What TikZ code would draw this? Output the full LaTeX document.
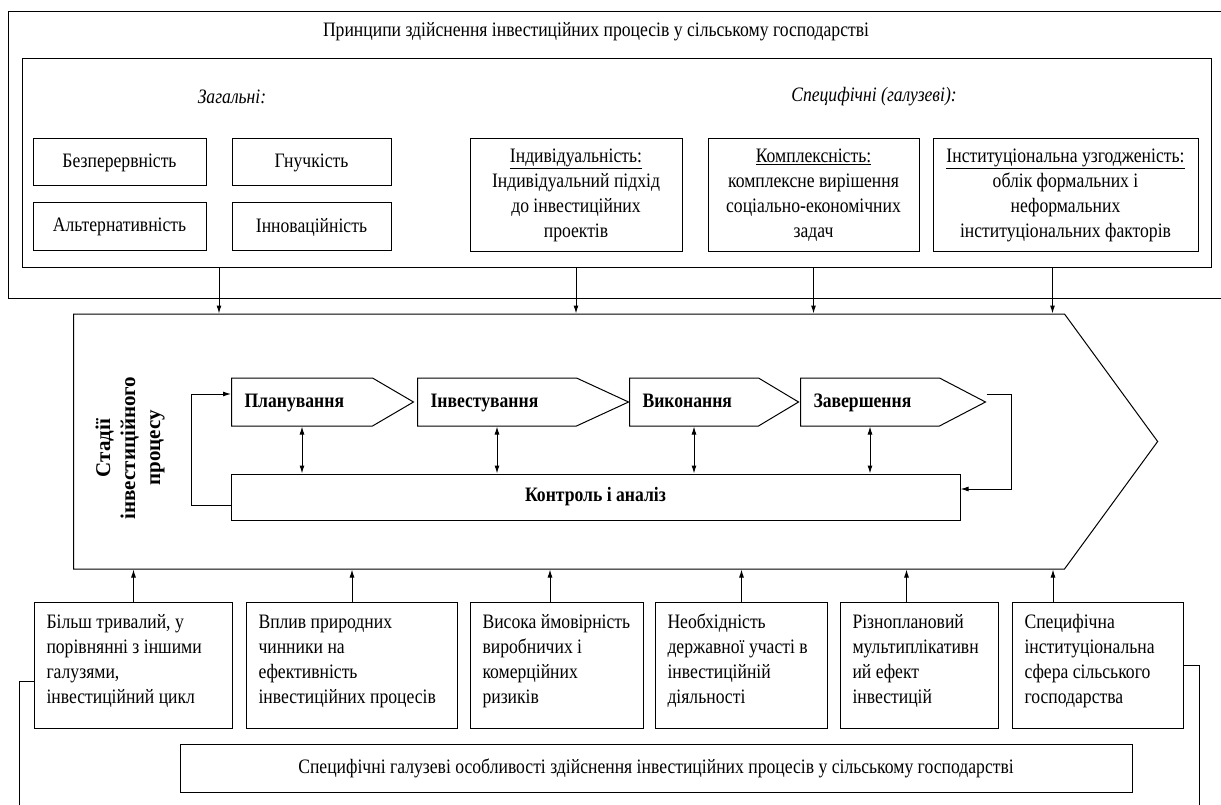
\documentclass[tikz,border=0pt]{standalone}
\usepackage{fontspec}
\setmainfont[FakeStretch=0.86]{Liberation Serif}
\newfontfamily\upright{Liberation Serif}
\newcommand{\topstrut}{\rule{0pt}{16pt}}
\usetikzlibrary{shapes.symbols,arrows.meta,calc}

\begin{document}
\begin{tikzpicture}[x=1pt,y=-1pt,
    every node/.style={font=\fontsize{20.5}{25}\selectfont},
    line/.style={line width=1pt},
    box/.style={draw,line width=1pt,inner sep=2pt,align=center},
    stage/.style={draw,line width=1pt,shape=signal,signal to=east,minimum height=48pt,
        inner xsep=13pt,align=left,anchor=west,text height=14pt,text depth=4pt,
        font=\fontsize{20.5}{25}\selectfont\bfseries},
    factor/.style={draw,line width=1pt,inner xsep=12pt,inner ysep=10pt,anchor=north west},
    arr/.style={line width=1pt,-{Latex[length=8pt,width=5pt]}},
    darr/.style={line width=1pt,{Latex[length=8pt,width=5pt]}-{Latex[length=8pt,width=5pt]}}]
\useasboundingbox (0,0) rectangle (1221,805);

% principles
\draw[line] (1230,12) -| (8,298) -- (1230,298);
\node (title) at (596,32) {Принципи здійснення інвестиційних процесів у сільському господарстві};
\node[box,minimum width=1189pt,minimum height=208pt] (inner) at (616.5,163) {};
\node[font=\fontsize{20.5}{25}\selectfont\itshape] (gen) at (232,97) {Загальні:};
\node[font=\fontsize{20.5}{25}\selectfont\itshape] (spec) at (874,97) {Специфічні (галузеві):};
\node[box,minimum width=173pt,minimum height=47pt] (bez) at (119.5,162.5) {Безперервність};
\node[box,minimum width=159pt,minimum height=47pt] (gnuch) at (311.5,162.5) {Гнучкість};
\node[box,minimum width=173pt,minimum height=48pt] (alt) at (119.5,227) {Альтернативність};
\node[box,minimum width=159pt,minimum height=48pt] (innov) at (311.5,227) {Інноваційність};
\node[box,minimum width=212pt,minimum height=113pt] (indiv) at (576,195.5)
    {\underline{Індивідуальність:}\\Індивідуальний підхід\\до інвестиційних\\проектів};
\node[box,minimum width=211pt,minimum height=113pt] (kompl) at (813.5,195.5)
    {\underline{Комплексність:}\\комплексне вирішення\\соціально-економічних\\задач};
\node[box,minimum width=265pt,minimum height=113pt] (inst) at (1065.5,195.5)
    {\underline{Інституціональна узгодженість:}\\облік формальних і\\неформальних\\інституціональних факторів};

% stages
\node[draw,line,shape=signal,signal to=east,signal pointer angle=107.7,minimum height=255pt,
    text width=991pt,inner sep=0pt,anchor=west] (proc) at (73,441.5) {};
\node[rotate=90,align=center,font=\fontsize{21}{25}\selectfont\upright\bfseries] (stadii) at (130,448)
    {Стадії\\інвестиційного\\процесу};
\node[stage,text width=115pt,signal pointer angle=60.7] (plan) at (231,402) {Планування};
\node[stage,text width=133pt,signal pointer angle=49.5] (invest) at (417,402) {Інвестування};
\node[stage,text width=103pt,signal pointer angle=61.9] (vykon) at (629,402) {Виконання};
\node[stage,text width=113pt,signal pointer angle=55.1] (zaversh) at (800,402) {Завершення};
\node[box,minimum width=729pt,minimum height=46pt,font=\fontsize{20.5}{25}\selectfont\bfseries]
    (ctrl) at (595.5,497) {Контроль і аналіз};

\draw[darr] (plan.south) -- (plan.south |- ctrl.north);
\draw[darr] (invest.south) -- (invest.south |- ctrl.north);
\draw[darr] (vykon.south) -- (vykon.south |- ctrl.north);
\draw[darr] (zaversh.south) -- (zaversh.south |- ctrl.north);
\draw[arr] ([yshift=8pt]zaversh.east) -- ++(25,0) |- ([yshift=8pt]ctrl.east);
\draw[arr] ([yshift=-8pt]ctrl.west) -- ++(-39,0) |- ([yshift=8pt]plan.west);

% features
\node[factor] (f1) at (34,602) {\parbox[c][106pt][t]{174pt}{\raggedright
    \topstrut Більш тривалий, у\\порівнянні з іншими\\галузями,\\інвестиційний цикл}};
\node[factor] (f2) at (246,602) {\parbox[c][106pt][t]{187pt}{\raggedright
    \topstrut Вплив природних\\чинники на\\ефективність\\інвестиційних процесів}};
\node[factor] (f3) at (470,602) {\parbox[c][106pt][t]{149pt}{\raggedright
    \topstrut Висока ймовірність\\виробничих і\\комерційних\\ризиків}};
\node[factor] (f4) at (655,602) {\parbox[c][106pt][t]{148pt}{\raggedright
    \topstrut Необхідність\\державної участі в\\інвестиційній\\діяльності}};
\node[factor] (f5) at (840,602) {\parbox[c][106pt][t]{134pt}{\raggedright
    \topstrut Різноплановий\\мультиплікативн\\ий ефект\\інвестицій}};
\node[factor] (f6) at (1012,602) {\parbox[c][106pt][t]{147pt}{\raggedright
    \topstrut Специфічна\\інституціональна\\сфера сільського\\господарства}};
\node[box,minimum width=952pt,minimum height=48pt] (osob) at (656,768)
    {Специфічні галузеві особливості здійснення інвестиційних процесів у сільському господарстві};

% connectors
\coordinate (gap) at ($(bez.east)!0.5!(gnuch.west)$);
\coordinate (t4) at ([xshift=-13pt]inst.south);
\draw[arr] (gap |- inner.south) -- (gap |- proc.north);
\draw[arr] (indiv.south |- inner.south) -- (indiv.south |- proc.north);
\draw[arr] (kompl.south |- inner.south) -- (kompl.south |- proc.north);
\draw[arr] (t4 |- inner.south) -- (t4 |- proc.north);

\coordinate (b3) at ([xshift=-7pt]f3.north);
\coordinate (b5) at ([xshift=-13pt]f5.north);
\coordinate (b6) at ([xshift=-45pt]f6.north);
\draw[arr] (f1.north) -- (f1.north |- proc.south);
\draw[arr] (f2.north) -- (f2.north |- proc.south);
\draw[arr] (b3) -- (b3 |- proc.south);
\draw[arr] (f4.north) -- (f4.north |- proc.south);
\draw[arr] (b5) -- (b5 |- proc.south);
\draw[arr] (b6) -- (b6 |- proc.south);

\coordinate (lb) at (19,810);
\coordinate (rb) at (1199,810);
\draw[line] ([yshift=-16pt]f1.west) -| (lb);
\draw[line] (f6.east) -| (rb);
\end{tikzpicture}
\end{document}
